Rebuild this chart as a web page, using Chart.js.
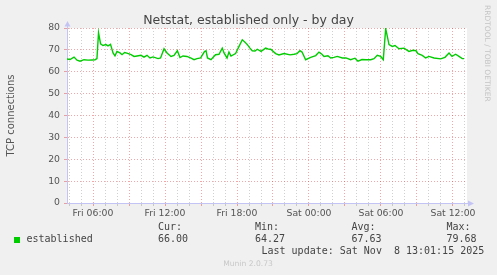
<!DOCTYPE html>
<html>
<head>
<meta charset="utf-8">
<script src="https://cdn.jsdelivr.net/npm/chart.js@4.4.1/dist/chart.umd.min.js"></script>
<style>
  html, body { margin: 0; padding: 0; background: #f0f0f0; }
</style>
</head>
<body>
<canvas id="c" width="497" height="275"></canvas>
<script>
// hours since Fri 00:00
const hours = [
  3.83, 4.08, 4.42, 4.67, 4.92, 5.25, 5.58, 5.92, 6.17, 6.33,
  6.46, 6.63, 6.83, 7.08, 7.25, 7.46, 7.67, 7.83, 8.00, 8.25,
  8.42, 8.63, 8.83, 9.17, 9.42, 9.67, 10.00, 10.25, 10.50, 10.75,
  11.00, 11.42, 11.63, 11.92, 12.17, 12.50, 12.75, 13.03, 13.25, 13.50,
  13.83, 14.17, 14.42, 14.67, 14.97, 15.29, 15.42, 15.54, 15.83, 16.21,
  16.50, 16.77, 16.92, 17.17, 17.33, 17.50, 17.88, 18.17, 18.44, 18.67,
  18.86, 19.08, 19.27, 19.50, 19.69, 20.00, 20.39, 20.58, 20.81, 21.22,
  21.50, 21.92, 22.42, 22.75, 23.00, 23.25, 23.42, 23.72, 24.14, 24.56,
  24.83, 25.08, 25.25, 25.58, 25.81, 26.08, 26.36, 26.78, 27.08, 27.47,
  27.83, 28.08, 28.42, 28.75, 29.14, 29.42, 29.69, 29.97, 30.19, 30.39,
  30.67, 30.94, 31.17, 31.50, 31.92, 32.33, 32.67, 32.92, 33.08, 33.44,
  33.72, 34.00, 34.42, 34.97, 35.33, 35.67, 35.92, 36.22, 36.50, 36.77,
  36.92
];
const established = [
  65.8, 65.6, 66.7, 65.3, 64.8, 65.5, 65.3, 65.4, 65.5, 66.0,
  77.8, 72.8, 72.0, 72.4, 71.8, 72.5, 68.6, 67.3, 69.3, 68.6,
  67.8, 68.8, 68.5, 67.8, 67.0, 67.2, 67.5, 66.7, 67.5, 66.3,
  66.8, 66.0, 66.3, 70.5, 68.6, 67.0, 67.5, 69.6, 66.5, 67.2,
  67.0, 66.2, 65.5, 66.0, 66.3, 69.2, 69.6, 66.3, 65.5, 67.8,
  68.0, 70.8, 68.6, 66.3, 69.0, 67.2, 68.3, 71.6, 74.6, 73.5,
  72.4, 70.8, 69.6, 69.5, 70.3, 69.3, 70.8, 70.4, 70.3, 68.3,
  67.7, 68.3, 67.7, 68.0, 68.3, 69.6, 69.0, 65.5, 66.6, 67.4,
  69.0, 68.0, 67.0, 67.3, 66.3, 66.6, 67.0, 66.3, 66.3, 65.5,
  66.2, 64.8, 65.6, 65.5, 65.5, 66.0, 67.5, 67.0, 65.5, 79.7,
  72.4, 71.6, 72.0, 70.5, 70.8, 69.3, 69.8, 69.6, 68.3, 67.5,
  66.3, 67.0, 66.3, 65.9, 66.6, 68.6, 67.0, 68.0, 67.0, 66.0,
  66.0
];

const tickHours = [6, 12, 18, 24, 30, 36];
const tickLabels = ['Fri 06:00', 'Fri 12:00', 'Fri 18:00', 'Sat 00:00', 'Sat 06:00', 'Sat 12:00'];

const statNames = ['Cur:', 'Min:', 'Avg:', 'Max:'];
const statValues = ['66.00', '64.27', '67.63', '79.68'];

const title = 'Netstat, established only - by day';
const lastUpdate = 'Last update: Sat Nov  8 13:01:15 2025';

const green = '#00cc00';
const axisColor = '#c4c4f4';
const majorGrid = 'rgba(220,60,60,0.45)';
const minorGrid = 'rgba(150,150,150,0.45)';

function gridColor(ctx, every) {
  if (!ctx.tick) return minorGrid;
  return Math.round(ctx.tick.value) % every === 0 ? majorGrid : minorGrid;
}

const munin = {
  id: 'munin',
  beforeDraw(chart) {
    const { ctx, chartArea: a } = chart;
    ctx.save();
    ctx.fillStyle = '#ffffff';
    ctx.fillRect(a.left, a.top, a.right - a.left, a.bottom - a.top);
    ctx.restore();
  },
  afterDraw(chart) {
    const { ctx, chartArea: a } = chart;
    ctx.save();

    // axis arrows
    ctx.strokeStyle = axisColor;
    ctx.lineWidth = 1;
    ctx.beginPath();
    ctx.moveTo(a.left + 0.5, a.top);
    ctx.lineTo(a.left + 0.5, a.top - 4);
    ctx.moveTo(a.right, a.bottom + 0.5);
    ctx.lineTo(a.right + 3, a.bottom + 0.5);
    ctx.stroke();
    ctx.fillStyle = axisColor;
    ctx.beginPath();
    ctx.moveTo(a.left - 2.5, a.top - 1.5);
    ctx.lineTo(a.left + 0.5, a.top - 7);
    ctx.lineTo(a.left + 3.5, a.top - 1.5);
    ctx.fill();
    ctx.beginPath();
    ctx.moveTo(a.right + 1, a.bottom - 2.5);
    ctx.lineTo(a.right + 7, a.bottom + 0.5);
    ctx.lineTo(a.right + 1, a.bottom + 3.5);
    ctx.fill();

    // title
    ctx.fillStyle = '#444';
    ctx.font = '12.5px "DejaVu Sans"';
    ctx.textAlign = 'center';
    ctx.textBaseline = 'alphabetic';
    ctx.fillText(title, 248.5, 24);

    // legend
    ctx.font = '10px "DejaVu Sans Mono"';
    ctx.textAlign = 'left';
    ctx.textBaseline = 'middle';
    ctx.fillStyle = '#444';
    const cols = [158, 255, 351.5, 446.5];
    statNames.forEach((n, i) => ctx.fillText(n, cols[i], 227.5));
    statValues.forEach((v, i) => ctx.fillText(v, cols[i], 239.5));
    ctx.fillText(chart.data.datasets[0].label, 26.5, 239.5);
    ctx.fillText(lastUpdate, 261.5, 251.5);
    ctx.fillStyle = green;
    ctx.fillRect(14, 237, 6, 6);

    // footer
    ctx.fillStyle = '#c8c8c8';
    ctx.font = '7.6px "DejaVu Sans"';
    ctx.textAlign = 'center';
    ctx.fillText('Munin 2.0.73', 248, 264);

    // rrdtool credit
    ctx.fillStyle = '#c4c4c4';
    ctx.font = '7.5px "DejaVu Sans"';
    ctx.translate(487, 5);
    ctx.rotate(Math.PI / 2);
    ctx.textAlign = 'left';
    ctx.textBaseline = 'middle';
    ctx.fillText('RRDTOOL / TOBI OETIKER', 0, 0);
    ctx.restore();
  }
};

new Chart(document.getElementById('c'), {
  type: 'line',
  data: {
    datasets: [{
      label: 'established',
      data: hours.map((h, i) => ({ x: h, y: established[i] })),
      borderColor: green,
      borderWidth: 1.4,
      pointRadius: 0,
      tension: 0,
      fill: false
    }]
  },
  options: {
    responsive: false,
    animation: false,
    layout: { padding: { top: 28, right: 30, left: 0, bottom: 0 } },
    plugins: {
      legend: { display: false },
      title: { display: false },
      tooltip: { enabled: false }
    },
    scales: {
      x: {
        type: 'linear',
        min: 3.833,
        max: 37.167,
        afterFit: s => { s.height = 72; },
        ticks: {
          stepSize: 1,
          includeBounds: false,
          autoSkip: false,
          maxRotation: 0,
          padding: 2,
          color: '#555',
          font: { family: 'DejaVu Sans', size: 9.3 },
          callback: v => {
            const i = tickHours.indexOf(Math.round(v));
            return i < 0 ? '' : tickLabels[i];
          }
        },
        grid: {
          color: c => gridColor(c, 3),
          tickColor: c => gridColor(c, 3),
          tickLength: 3,
          lineWidth: 1
        },
        border: { color: axisColor, dash: [1, 2] }
      },
      y: {
        min: 0,
        max: 80,
        afterFit: s => { s.width = 67; },
        title: {
          display: true,
          text: 'TCP connections',
          color: '#555',
          font: { family: 'DejaVu Sans', size: 10 },
          padding: { top: 5, bottom: 0 }
        },
        ticks: {
          stepSize: 5,
          padding: 4,
          color: '#555',
          font: { family: 'DejaVu Sans', size: 9.3 },
          callback: v => (v % 10 === 0 ? v : '')
        },
        grid: {
          color: c => gridColor(c, 10),
          tickColor: c => gridColor(c, 10),
          tickLength: 3,
          lineWidth: 1
        },
        border: { color: axisColor, dash: [1, 2] }
      }
    }
  },
  plugins: [munin]
});
</script>
</body>
</html>
